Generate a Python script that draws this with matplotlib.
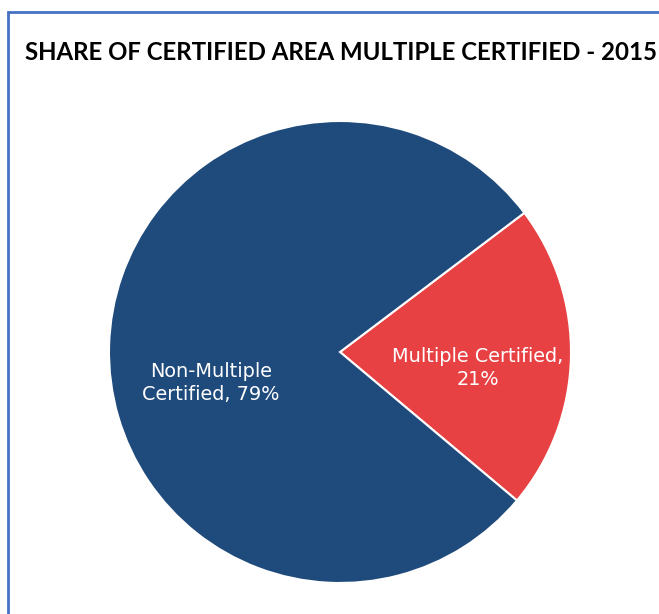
import matplotlib
matplotlib.use("Agg")
import matplotlib.pyplot as plt
from matplotlib.patches import Rectangle
import numpy as np

title = "SHARE OF CERTIFIED AREA MULTIPLE CERTIFIED - 2015"
categories = ["Multiple Certified", "Non-Multiple\nCertified"]
shares = [21.4, 78.6]
colors = ["#E84143", "#1F4A7C"]

W, H = 659, 614
fig = plt.figure(figsize=(W / 100, H / 100), dpi=100)

# border (blue frame, cropped at right and bottom)
fig.patches.append(Rectangle((8 / W, -0.1), 1.2, (H - 12) / H + 0.1,
                             transform=fig.transFigure, fill=False,
                             edgecolor="#4472C4", linewidth=2))

fig.text(25 / W, 1 - 53 / H, title, fontsize=17.3, fontweight="bold",
         family="Lato", ha="left", va="center", color="black")

cx, cy, r = 340, 352, 231
ax = fig.add_axes([(cx - r) / W, (H - cy - r) / H, 2 * r / W, 2 * r / H])
wedges, _ = ax.pie(shares, colors=colors, startangle=-40.0, counterclock=True,
                   radius=1, wedgeprops=dict(edgecolor="white", linewidth=1.5))
ax.set_xlim(-1, 1)
ax.set_ylim(-1, 1)
ax.set_aspect("equal")
ax.axis("off")

# labels
label_pos = [(0.595, -0.07), (-0.558, -0.135)]
for cat, v, (x, y) in zip(categories, shares, label_pos):
    pct = f"{round(v)}%"
    if "\n" in cat:
        txt = cat + f", {pct}"
    else:
        txt = cat + f",\n{pct}"
    ax.text(x, y, txt, ha="center", va="center", color="white",
            fontsize=13.9, family="DejaVu Sans", linespacing=1.25)

fig.savefig("out.png", dpi=100)
